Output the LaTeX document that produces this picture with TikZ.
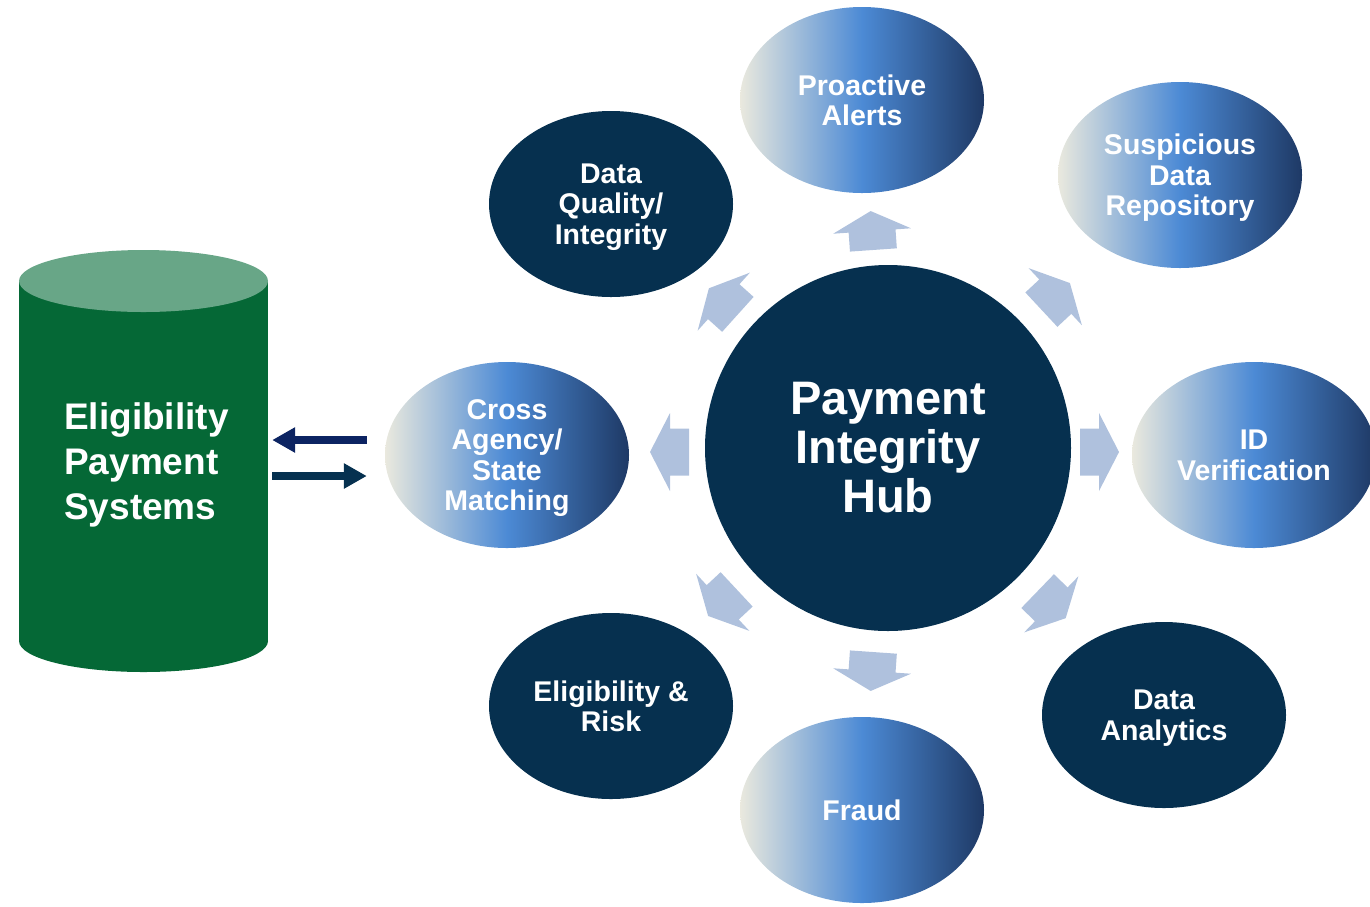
\documentclass[tikz,border=0pt]{standalone}
\usepackage{fontspec}
\setmainfont{Liberation Sans}
\usetikzlibrary{shapes.geometric,arrows.meta,calc}

\definecolor{hubnavy}{HTML}{06304F}
\definecolor{ovalcream}{HTML}{EAE9DE}
\definecolor{ovalblue}{HTML}{4C8AD5}
\definecolor{ovalnavy}{HTML}{1E3965}
\definecolor{flowblue}{HTML}{AFC1DD}
\definecolor{cyltop}{HTML}{68A687}
\definecolor{cylbody}{HTML}{056836}
\definecolor{linkblue}{HTML}{0C2462}
\definecolor{linknavy}{HTML}{063150}

\begin{document}
\begin{tikzpicture}[x=1pt,y=-1pt,
  oval/.style={ellipse, minimum width=244pt, minimum height=186pt, inner sep=0pt,
    text=white, align=center, text depth=0pt, font=\bfseries\fontsize{28.5}{30.5}\selectfont},
  darkoval/.style={oval, fill=hubnavy},
  shadedoval/.style={oval, left color=ovalcream, right color=ovalnavy, middle color=ovalblue},
  flow/.pic={\fill[flowblue] (19,0) -- (-1,-39) -- (-1,-23.5) -- (-20,-23.5)
    -- (-20,23.5) -- (-1,23.5) -- (-1,39) -- cycle;},
  link/.style={line width=7.5pt, -{Triangle[length=23pt,width=24pt]}}
]
\useasboundingbox (0,0) rectangle (1370,906);

% database cylinder
\fill[cylbody] (19,281) rectangle (268,641);
\fill[cylbody] (143.5,641) ellipse [x radius=124.5, y radius=31];
\fill[cyltop] (143.5,281) ellipse [x radius=124.5, y radius=31];
\node[minimum width=249pt, minimum height=422pt, inner sep=0pt] (cyl) at (143.5,461) {};
\node[anchor=west, inner sep=0pt, text=white, align=left,
  font=\bfseries\fontsize{37}{45}\selectfont] (cyltext) at (64,465)
  {Eligibility\\Payment\\Systems};

% central hub
\node[circle, fill=hubnavy, minimum size=366pt, inner sep=0pt, text=white, align=center,
  font=\bfseries\fontsize{47}{49}\selectfont] (hub) at (888,448)
  {Payment\\Integrity\\Hub};

% surrounding services
\node[shadedoval] (proactive)  at (862,100)  {Proactive\\Alerts};
\node[shadedoval] (suspicious) at (1180,175) {Suspicious\\Data\\Repository};
\node[shadedoval] (idver)      at (1254,455) {ID\\Verification};
\node[darkoval]   (analytics)  at (1164,715) {Data\\Analytics};
\node[shadedoval] (fraud)      at (862,810)  {Fraud};
\node[darkoval]   (elig)       at (611,706)  {Eligibility \&\\Risk};
\node[shadedoval] (cross)      at (507,455)  {Cross\\Agency/\\State\\Matching};
\node[darkoval]   (quality)    at (611,204)  {Data\\Quality/\\Integrity};

% outward flow arrows around the hub
\pic[rotate=94]   at (872,230)  {flow};
\pic[rotate=43]   at (1056,296) {flow};
\pic[rotate=0]    at (1100,452) {flow};
\pic[rotate=-44]  at (1052,605) {flow};
\pic[rotate=-94]  at (872,672)  {flow};
\pic[rotate=-137] at (722,603)  {flow};
\pic[rotate=180]  at (669,452)  {flow};
\pic[rotate=138]  at (723,301)  {flow};

% exchange between the payment systems and cross matching
\draw[link, linkblue] ($(cross.west)+(-18,-15)$) -- ($(cyl.east |- cross.west)+(4,-15)$);
\draw[link, linknavy] ($(cyl.east |- cross.west)+(4,21)$) -- ($(cross.west)+(-18,21)$);
\end{tikzpicture}
\end{document}
